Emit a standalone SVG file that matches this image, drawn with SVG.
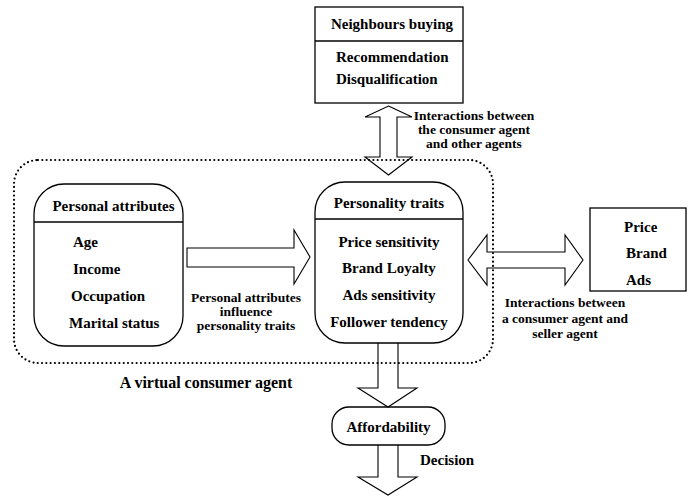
<svg xmlns="http://www.w3.org/2000/svg" width="691" height="496" viewBox="0 0 691 496">
<style>
text{font-weight:bold;fill:#000}
.t{font-size:15px}
.l{font-size:13.5px}
.c{text-anchor:middle}
.box{fill:#fff;stroke:#000;stroke-width:1.3}
.arr{fill:none;stroke:#000;stroke-width:1.1;stroke-linejoin:miter}
.dot{fill:none;stroke:#000;stroke-width:2.2;stroke-linecap:round;stroke-dasharray:0 4.3}
</style>
<rect width="691" height="496" fill="#fff"/>
<g font-family="Liberation Serif, Times New Roman, serif">
<g id="agent-boundary">
<rect class="dot" x="14" y="160" width="479" height="203" rx="24"/>
<text x="206" y="388" class="c" style="font-size:16px">A virtual consumer agent</text>
</g>

<g id="neighbours">
<rect class="box" x="315" y="7" width="148" height="96"/>
<line x1="315" y1="41" x2="463" y2="41" stroke="#000" stroke-width="1.3"/>
<text x="392" y="29" class="t c">Neighbours buying</text>
<text x="336" y="62" class="t">Recommendation</text>
<text x="336" y="84" class="t">Disqualification</text>
</g>

<g id="personal-attributes">
<rect class="box" x="34" y="184" width="149" height="162" rx="30"/>
<line x1="34" y1="222" x2="183" y2="222" stroke="#000" stroke-width="1.3"/>
<text x="113.5" y="211" class="t c">Personal attributes</text>
<text x="73" y="247" class="t">Age</text>
<text x="73" y="274" class="t">Income</text>
<text x="71" y="301" class="t">Occupation</text>
<text x="69" y="328" class="t">Marital status</text>
</g>

<g id="personality-traits">
<rect class="box" x="315" y="182" width="148" height="161" rx="30"/>
<line x1="315" y1="219" x2="463" y2="219" stroke="#000" stroke-width="1.3"/>
<text x="389" y="208" class="t c">Personality traits</text>
<text x="389" y="247" class="t c">Price sensitivity</text>
<text x="389" y="273" class="t c">Brand Loyalty</text>
<text x="389" y="300" class="t c">Ads sensitivity</text>
<text x="389" y="327" class="t c">Follower tendency</text>
</g>

<g id="seller">
<rect class="box" x="590" y="208" width="96" height="83"/>
<text x="624" y="232" class="t">Price</text>
<text x="626" y="258" class="t">Brand</text>
<text x="626" y="285" class="t">Ads</text>
</g>

<g id="affordability">
<rect class="box" x="332" y="407" width="113" height="38" rx="17"/>
<text x="388.5" y="432" class="t c">Affordability</text>
</g>

<g id="connectors">
<polygon class="arr" points="388.5,106 412,117 397,117 397,157 412,157 388.5,175 365,157 380,157 380,117 365,117"/>
<text x="474" y="120" class="l c">Interactions between</text>
<text x="474" y="134" class="l c">the consumer agent</text>
<text x="474" y="148" class="l c">and other agents</text>

<polygon class="arr" style="fill:#fff" points="187,248 294,248 294,230 310,257 294,284 294,267 187,267"/>
<text x="246" y="302" class="l c">Personal attributes</text>
<text x="246" y="316" class="l c">influence</text>
<text x="246" y="330" class="l c">personality traits</text>

<polygon class="arr" points="468,260 487,235 487,252 565,252 565,235 583,260 565,285 565,268 487,268 487,285"/>
<text x="565" y="307" class="l c">Interactions between</text>
<text x="565" y="323" class="l c">a consumer agent and</text>
<text x="565" y="338" class="l c">seller agent</text>

<polyline class="arr" points="378,343 378,388 358,388 388,407 417,388 398,388 398,343"/>
<polyline class="arr" points="378,445 378,477 358,477 388,495 417,477 398,477 398,445"/>
<text x="420" y="465" class="t">Decision</text>
</g>
</g>
</svg>
